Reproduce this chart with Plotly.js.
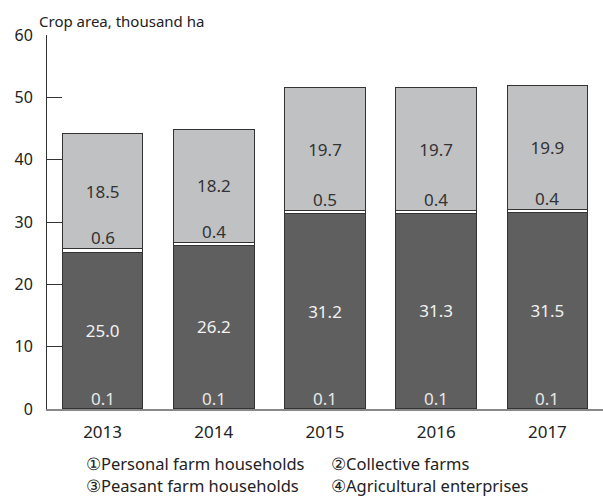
<!DOCTYPE html>
<html>
<head>
<meta charset="utf-8">
<script src="https://cdn.plot.ly/plotly-3.0.1.min.js"></script>
<style>html,body{margin:0;padding:0;background:#fff}#chart{width:603px;height:497px}</style>
</head>
<body>
<div id="chart"></div>
<script>
// Data
var years = ['2013', '2014', '2015', '2016', '2017'];
var agriculturalEnterprises = [0.1, 0.1, 0.1, 0.1, 0.1];
var peasantFarms = [25.0, 26.2, 31.2, 31.3, 31.5];
var collectiveFarms = [0.6, 0.4, 0.5, 0.4, 0.4];
var personalFarms = [18.5, 18.2, 19.7, 19.7, 19.9];
var legendLines = [
  ['\u2460Personal farm households', '\u2461Collective farms'],
  ['\u2462Peasant farm households', '\u2463Agricultural enterprises']
];
var yTicks = [0, 10, 20, 30, 40, 50, 60];

var FONT = 'Noto Sans, Open Sans, sans-serif';
var DARK = '#5f5f5f', LIGHT = '#c0c1c3', EDGE = '#333333';

function fmt(v) { return v.toFixed(1); }

var traces = [
  {type: 'bar', name: 'Agricultural enterprises', x: years, y: agriculturalEnterprises,
   marker: {color: DARK, line: {color: EDGE, width: 1}}, hoverinfo: 'skip'},
  {type: 'bar', name: 'Peasant farm households', x: years, y: peasantFarms,
   marker: {color: DARK, line: {color: EDGE, width: 1}},
   text: peasantFarms.map(fmt), textposition: 'inside', insidetextanchor: 'middle',
   textfont: {color: '#f2f2f2', size: 17, family: FONT}, constraintext: 'none', hoverinfo: 'skip'},
  {type: 'bar', name: 'Collective farms', x: years, y: collectiveFarms,
   marker: {color: '#ffffff', line: {color: EDGE, width: 1}}, hoverinfo: 'skip'},
  {type: 'bar', name: 'Personal farm households', x: years, y: personalFarms,
   marker: {color: LIGHT, line: {color: EDGE, width: 1}},
   text: personalFarms.map(fmt), textposition: 'inside', insidetextanchor: 'middle',
   textfont: {color: '#333333', size: 17, family: FONT}, constraintext: 'none', hoverinfo: 'skip'}
];

var annotations = [];
// small segment labels (x given as category index)
years.forEach(function (yr, i) {
  annotations.push({x: i, y: 0, xref: 'x', yref: 'y', yanchor: 'bottom', showarrow: false,
    text: fmt(agriculturalEnterprises[i]), font: {family: FONT, size: 17, color: '#e8e8e8'}, yshift: -3});
  var top = agriculturalEnterprises[i] + peasantFarms[i] + collectiveFarms[i];
  annotations.push({x: i, y: top, xref: 'x', yref: 'y', yanchor: 'bottom', showarrow: false,
    text: fmt(collectiveFarms[i]), font: {family: FONT, size: 17, color: '#333333'}, yshift: -2});
});
// y axis title
annotations.push({xref: 'paper', yref: 'paper', x: -0.018, y: 1.037, xanchor: 'left', yanchor: 'middle',
  showarrow: false, text: 'Crop area, thousand ha', font: {family: FONT, size: 15, color: '#222'}});
// legend text
var legX = [0.068, 0.509];
var legY = [-0.145, -0.204];
legendLines.forEach(function (row, r) {
  row.forEach(function (txt, c) {
    annotations.push({xref: 'paper', yref: 'paper', x: legX[c], y: legY[r], xanchor: 'left', yanchor: 'middle',
      showarrow: false, borderpad: 0, text: txt, font: {family: FONT, size: 16.5, color: '#222'}});
  });
});
// clipped title (only descenders visible at top)
annotations.push({xref: 'paper', yref: 'paper', x: 0.5, y: 1, xanchor: 'center', yanchor: 'bottom',
  showarrow: false, yshift: 33,
  text: 'Changes in crop area by type of crop (Republic of Karelia, all holdings)',
  font: {family: 'Liberation Serif, serif', size: 20, color: '#111'}});

var layout = {
  width: 603, height: 497,
  margin: {l: 47, r: 0, t: 35, b: 88, pad: 0},
  paper_bgcolor: '#fff', plot_bgcolor: '#fff',
  barmode: 'stack', bargap: 0.274,
  showlegend: false,
  font: {family: FONT, size: 16, color: '#222'},
  xaxis: {type: 'category', range: [-0.5, 4.5], showline: true, linecolor: '#888', linewidth: 1.5, ticks: '',
    showgrid: false, zeroline: false, tickfont: {size: 17, color: '#222'}, ticklabelstandoff: 7},
  yaxis: {range: [0, 60], tickvals: yTicks, ticks: 'inside', ticklen: 15, tickcolor: '#333', tickwidth: 1,
    showline: true, linecolor: '#333', linewidth: 1, showgrid: false, zeroline: false,
    tickfont: {size: 16, color: '#222'}, ticklabelstandoff: 10},
  annotations: annotations
};

Plotly.newPlot('chart', traces, layout, {staticPlot: true});
</script>
</body>
</html>
